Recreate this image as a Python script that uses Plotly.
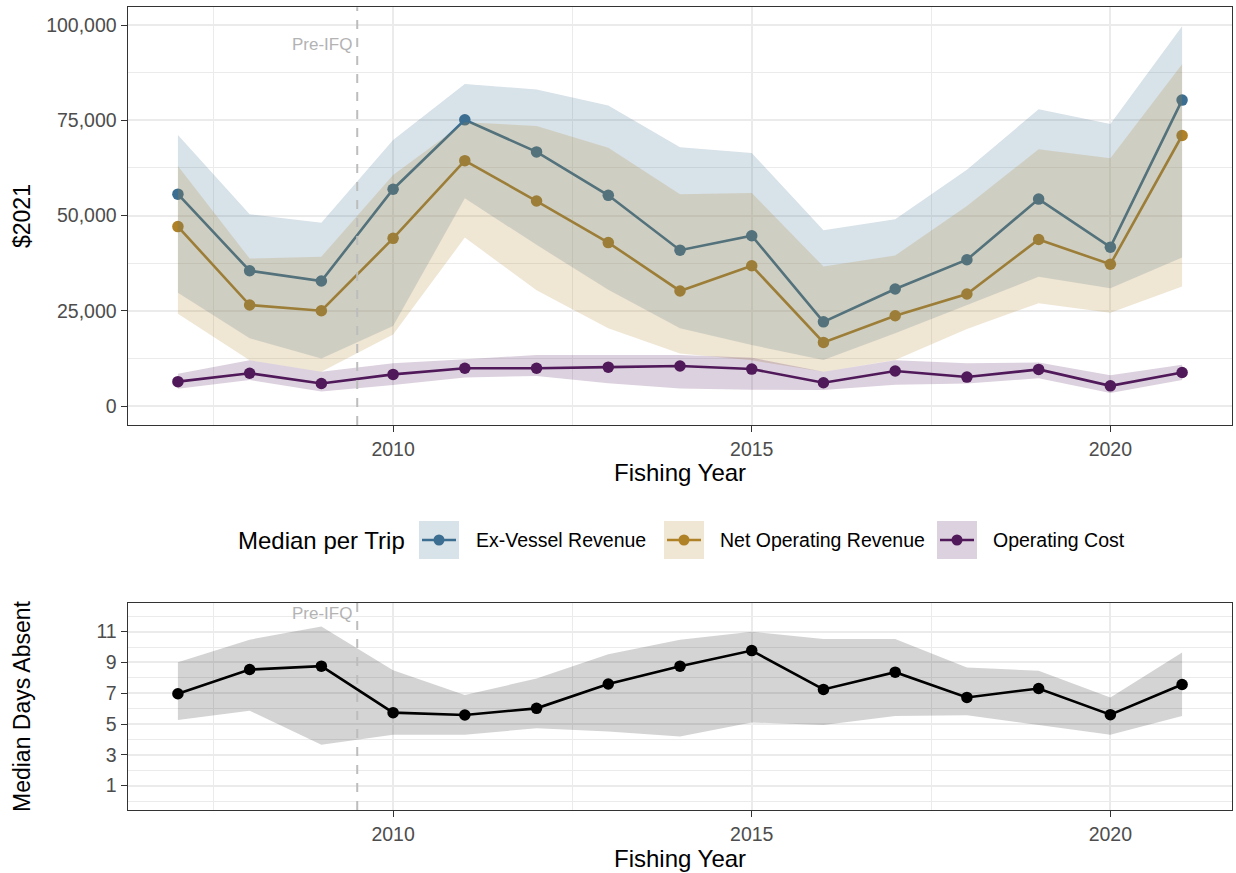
import plotly.graph_objects as go

# ---------------- data ----------------
years = list(range(2007, 2022))

ex_med = [55600, 35500, 32800, 56900, 75100, 66700, 55300, 40900, 44700, 22100, 30700, 38400, 54300, 41700, 80300]
ex_hi = [71100, 50300, 48100, 69800, 84500, 83100, 78900, 67900, 66400, 46100, 49000, 62000, 77900, 74000, 99660]
ex_lo = [29700, 17800, 12500, 21000, 54500, 42300, 30500, 20400, 16000, 12100, 19100, 26500, 33900, 30900, 39000]

net_med = [47100, 26500, 25000, 44000, 64400, 53800, 42900, 30200, 36800, 16700, 23700, 29400, 43700, 37200, 71000]
net_hi = [63000, 38700, 39200, 60600, 74500, 73500, 67800, 55600, 55900, 36600, 39500, 52500, 67400, 65000, 89700]
net_lo = [24200, 12000, 9000, 18800, 44200, 30400, 20400, 13800, 12000, 9000, 12100, 20200, 27000, 24500, 31400]

cost_med = [6400, 8600, 5900, 8300, 9900, 9900, 10200, 10500, 9700, 6100, 9200, 7600, 9600, 5300, 8800]
cost_hi = [8500, 12000, 9000, 11200, 12300, 13400, 13400, 13400, 12700, 9000, 12000, 11200, 11400, 8100, 10800]
cost_lo = [4500, 6800, 3800, 5500, 7500, 7900, 6000, 4600, 4300, 4200, 5600, 5900, 7300, 3400, 6800]

days_med = [6.97, 8.54, 8.76, 5.74, 5.59, 6.02, 7.60, 8.76, 9.77, 7.25, 8.37, 6.73, 7.31, 5.61, 7.57]
days_hi = [9.02, 10.48, 11.34, 8.50, 6.88, 7.96, 9.53, 10.48, 11.00, 10.53, 10.53, 8.67, 8.46, 6.73, 9.64]
days_lo = [5.27, 5.87, 3.65, 4.30, 4.30, 4.73, 4.51, 4.19, 5.10, 4.94, 5.53, 5.57, 4.94, 4.30, 5.53]

series_names = ["Ex-Vessel Revenue", "Net Operating Revenue", "Operating Cost"]
legend_title = "Median per Trip"
ifq_year = 2009.5

# ---------------- styling ----------------
W, H = 1236, 873
FONT = "Liberation Sans, Arial, Helvetica, sans-serif"
rgb = {
    "Ex-Vessel Revenue": (60, 110, 145),
    "Net Operating Revenue": (175, 130, 40),
    "Operating Cost": (80, 25, 90),
}


def col(name, a=1.0):
    r, g, b = rgb[name]
    return f"rgba({r},{g},{b},{a})"


def px(x):
    return x / W


def py(y):
    return 1 - y / H


fig = go.Figure()

meds = [ex_med, net_med, cost_med]
his = [ex_hi, net_hi, cost_hi]
los = [ex_lo, net_lo, cost_lo]

# lines + points first (ribbons drawn on top like the reference)
for name, m in zip(series_names, meds):
    fig.add_trace(go.Scatter(
        x=years, y=m, mode="lines+markers", name=name,
        line=dict(color=col(name), width=2.6),
        marker=dict(color=col(name), size=11.5),
        xaxis="x", yaxis="y", showlegend=False))

for name, lo, hi in zip(series_names, los, his):
    fig.add_trace(go.Scatter(x=years, y=lo, mode="lines", line=dict(width=0, color=col(name, 0)),
                             xaxis="x", yaxis="y", showlegend=False, hoverinfo="skip"))
    fig.add_trace(go.Scatter(x=years, y=hi, mode="lines", line=dict(width=0, color=col(name, 0)),
                             fill="tonexty", fillcolor=col(name, 0.2),
                             xaxis="x", yaxis="y", showlegend=False, hoverinfo="skip"))

# bottom panel
fig.add_trace(go.Scatter(x=years, y=days_med, mode="lines+markers",
                         line=dict(color="black", width=2.6), marker=dict(color="black", size=11.5),
                         xaxis="x2", yaxis="y2", showlegend=False))
fig.add_trace(go.Scatter(x=years, y=days_lo, mode="lines", line=dict(width=0, color="rgba(0,0,0,0)"),
                         xaxis="x2", yaxis="y2", showlegend=False, hoverinfo="skip"))
fig.add_trace(go.Scatter(x=years, y=days_hi, mode="lines", line=dict(width=0, color="rgba(0,0,0,0)"),
                         fill="tonexty", fillcolor="rgba(0,0,0,0.17)",
                         xaxis="x2", yaxis="y2", showlegend=False, hoverinfo="skip"))

# ---------------- axes ----------------
xdom = [px(127.7), px(1232.3)]
grid = "#ebebeb"
axcommon = dict(
    showline=True, linecolor="#333333", linewidth=1.3, mirror=True,
    ticks="outside", ticklen=6, tickwidth=1.3, tickcolor="#333333",
    tickfont=dict(family=FONT, size=19.5, color="#4d4d4d"),
    showgrid=True, gridcolor=grid, gridwidth=1.8, zeroline=False,
)
xcommon = dict(axcommon, range=[2006.3, 2021.7], tick0=2010, dtick=5, domain=xdom,
               minor=dict(tick0=2007.5, dtick=5, showgrid=True, gridcolor=grid, gridwidth=1.0, ticks=""))

fig.update_layout(
    width=W, height=H,
    margin=dict(l=0, r=0, t=0, b=0),
    paper_bgcolor="white", plot_bgcolor="white",
    font=dict(family=FONT),
    showlegend=False,
    xaxis=dict(xcommon, anchor="y"),
    yaxis=dict(axcommon, anchor="x", domain=[py(425), py(7.3)], range=[-4983, 104646],
               tick0=0, dtick=25000, tickformat=",d",
               minor=dict(tick0=12500, dtick=25000, showgrid=True, gridcolor=grid, gridwidth=1.0, ticks="")),
    xaxis2=dict(xcommon, anchor="y2"),
    yaxis2=dict(axcommon, anchor="x2", domain=[py(810), py(602.7)], range=[-0.58, 12.88],
                tick0=1, dtick=2,
                minor=dict(tick0=0, dtick=2, showgrid=True, gridcolor=grid, gridwidth=1.0, ticks="")),
)

# ---------------- IFQ line ----------------
for xr, yr in [("x", "y"), ("x2", "y2")]:
    fig.add_shape(type="line", xref=xr, yref=f"{yr} domain", x0=ifq_year, x1=ifq_year, y0=0, y1=1,
                  line=dict(color="#bdbdbd", width=2, dash="dash"), layer="above")

annotations = [
    dict(text="Pre-IFQ", xref="x", yref="paper", x=ifq_year, y=py(44), xanchor="right", yanchor="middle",
         xshift=-3, showarrow=False, font=dict(size=17, color="#b3b3b3", family=FONT)),
    dict(text="Pre-IFQ", xref="x2", yref="paper", x=ifq_year, y=py(613), xanchor="right", yanchor="middle",
         xshift=-3, showarrow=False, font=dict(size=17, color="#b3b3b3", family=FONT)),
    dict(text="Fishing Year", xref="paper", yref="paper", x=px(680), y=py(473), xanchor="center",
         yanchor="middle", showarrow=False, font=dict(size=24, color="black", family=FONT)),
    dict(text="Fishing Year", xref="paper", yref="paper", x=px(680), y=py(858), xanchor="center",
         yanchor="middle", showarrow=False, font=dict(size=24, color="black", family=FONT)),
    dict(text="$2021", xref="paper", yref="paper", x=px(22), y=py(216), xanchor="center",
         yanchor="middle", textangle=-90, showarrow=False, font=dict(size=23, color="black", family=FONT)),
    dict(text="Median Days Absent", xref="paper", yref="paper", x=px(22), y=py(706), xanchor="center",
         yanchor="middle", textangle=-90, showarrow=False, font=dict(size=23, color="black", family=FONT)),
    dict(text=legend_title, xref="paper", yref="paper", x=px(236), y=py(540), xanchor="left",
         yanchor="middle", showarrow=False, font=dict(size=24, color="black", family=FONT)),
]

# ---------------- manual legend (ggplot-style keys) ----------------
key_x = [419, 664, 937]
label_x = [474, 718, 991]
for name, kx, lx in zip(series_names, key_x, label_x):
    fig.add_shape(type="rect", xref="paper", yref="paper", x0=px(kx), x1=px(kx + 40), y0=py(559), y1=py(521),
                  fillcolor=col(name, 0.2), line=dict(width=0), layer="above")
    fig.add_shape(type="line", xref="paper", yref="paper", x0=px(kx + 3), x1=px(kx + 37), y0=py(540), y1=py(540),
                  line=dict(color=col(name), width=2.6), layer="above")
    fig.add_shape(type="circle", xref="paper", yref="paper", x0=px(kx + 20 - 5.5), x1=px(kx + 20 + 5.5),
                  y0=py(540 + 5.5), y1=py(540 - 5.5), fillcolor=col(name), line=dict(width=0), layer="above")
    annotations.append(dict(text=name, xref="paper", yref="paper", x=px(lx), y=py(540), xanchor="left",
                            yanchor="middle", showarrow=False, font=dict(size=19.5, color="black", family=FONT)))

fig.update_layout(annotations=annotations)

fig.write_html("out.html", config={"displayModeBar": False},
               post_script="document.body.style.margin='0';")
